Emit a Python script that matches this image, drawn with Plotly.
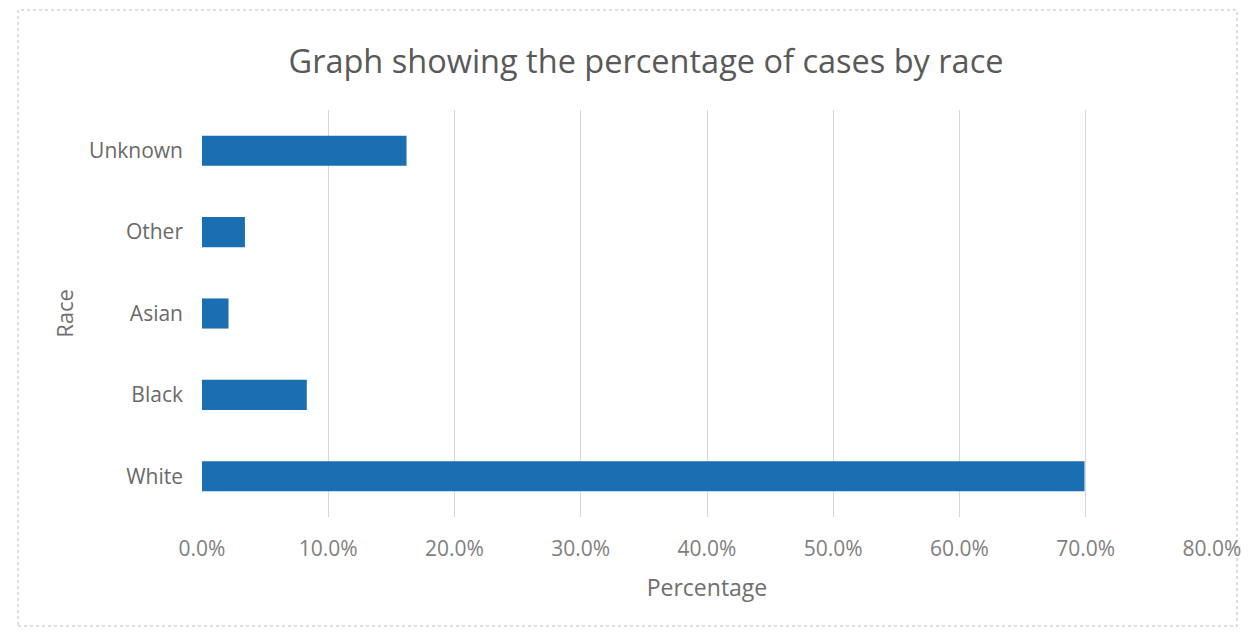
import plotly.graph_objects as go

races = ["White", "Black", "Asian", "Other", "Unknown"]
percentages = [0.699, 0.083, 0.021, 0.034, 0.162]
x_ticks = [0.0, 0.1, 0.2, 0.3, 0.4, 0.5, 0.6, 0.7, 0.8]

fig = go.Figure(
    go.Bar(
        y=races,
        x=percentages,
        orientation="h",
        marker=dict(color="#1a6fb3", line=dict(width=0)),
        width=0.37,
    )
)

W, H = 1257, 639
OFF = 8  # page body margin offset
L, R, T, B = 202 - OFF, 45 + OFF, 110 - OFF, 122 + OFF
PW, PH = W - L - R, H - T - B

fig.update_layout(
    width=W,
    height=H,
    margin=dict(l=L, r=R, t=T, b=B, autoexpand=False),
    paper_bgcolor="white",
    plot_bgcolor="white",
    font=dict(family="Open Sans", color="#7a7a7a"),
    title=dict(
        text="Graph showing the percentage of cases by race",
        x=(646 - OFF) / W,
        xanchor="center",
        xref="container",
        y=1 - (62 - OFF) / H,
        yanchor="middle",
        font=dict(size=32.5, color="#595959"),
    ),
    showlegend=False,
    shapes=[
        dict(
            type="rect",
            xref="paper",
            yref="paper",
            x0=(18 - 202) / PW,
            x1=(1237 - 202) / PW,
            y0=-(626 - 517) / PH,
            y1=1 + (110 - 10) / PH,
            line=dict(color="#d4d4d4", width=1.5, dash="dot"),
            layer="below",
        )
    ],
)

fig.update_xaxes(
    range=[0, 0.8],
    tickvals=x_ticks,
    tickformat=".1%",
    showgrid=True,
    gridcolor="#d6d6d6",
    gridwidth=1,
    zeroline=False,
    showline=False,
    automargin=False,
    tickfont=dict(size=21, color="#7f7f7f"),
    ticks="",
    ticklabelstandoff=17,
    title=dict(text="Percentage", font=dict(size=23, color="#6f6f6f"), standoff=18),
)
fig.update_yaxes(
    categoryorder="array",
    categoryarray=races,
    showgrid=False,
    zeroline=False,
    showline=False,
    automargin=False,
    ticks="",
    tickfont=dict(size=21, color="#6a6a6a"),
    ticklabelstandoff=18,
    title=dict(text="Race", font=dict(size=22, color="#6f6f6f"), standoff=9),
)

fig.write_html("out.html")
